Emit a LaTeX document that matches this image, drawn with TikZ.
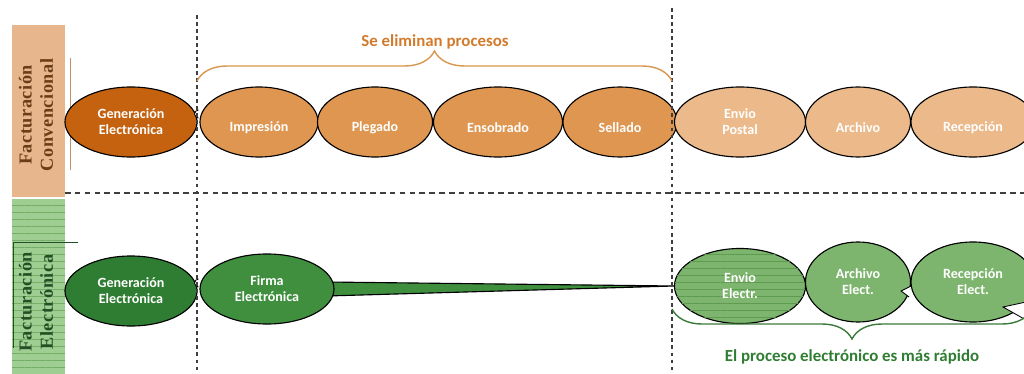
\documentclass[tikz,border=0pt]{standalone}
\usepackage{fontspec}
\setmainfont{Carlito}
\newfontfamily\barfont[LetterSpace=3]{Liberation Serif}
\usetikzlibrary{shapes.geometric,decorations.pathreplacing,patterns.meta,calc,backgrounds}

\definecolor{barTan}{HTML}{E8B68C}
\definecolor{barGreen}{HTML}{9FCE92}
\definecolor{barStripe}{HTML}{74AE66}
\definecolor{txtBrown}{HTML}{6A3D18}
\definecolor{txtGreen}{HTML}{244F24}
\definecolor{genOrange}{HTML}{C5620F}
\definecolor{midOrange}{HTML}{DE9650}
\definecolor{lightOrange}{HTML}{EBB98A}
\definecolor{braceOrange}{HTML}{D9964F}
\definecolor{titleOrange}{HTML}{D27B2C}
\definecolor{genGreen}{HTML}{2F7D32}
\definecolor{midGreen}{HTML}{3F8F3F}
\definecolor{lightGreen}{HTML}{7DB56E}
\definecolor{stripeGreen}{HTML}{5E9A50}
\definecolor{braceGreen}{HTML}{3B7A3B}
\definecolor{dashGray}{HTML}{3F3F3F}

\newcommand{\dropline}[1]{\raisebox{-4pt}[\height][\depth]{#1}}

\tikzset{
  proc/.style={ellipse,draw=black,line width=.8pt,inner sep=0pt,minimum height=1.75cm,
    text=white,align=center,font=\bfseries\fontsize{10}{11.5}\selectfont},
  barlabel/.style={rotate=90,align=center,font=\barfont\bfseries\fontsize{13}{15}\selectfont},
  bracetitle/.style={font=\bfseries\fontsize{12}{14}\selectfont},
  striped/.style={postaction={pattern={Lines[angle=0,distance=5pt,line width=.4pt]},pattern color=#1}}
}

\begin{document}
\begin{tikzpicture}[x=0.025cm,y=-0.025cm,>=latex]
    \useasboundingbox (0,0) rectangle (1024,374);
    % side bars
    \fill[barTan] (12,25) rectangle (65,197);
    \fill[barGreen,striped=barStripe] (12,199) rectangle (65,374);
    \node[barlabel,text=txtBrown] (lblconv) at (36,115) {Facturación\\Convencional};
    \node[barlabel,text=txtGreen] (lblelec) at (36,302) {Facturación\\Electrónica};
    \draw[barTan!80!black,line width=.6pt] (70,58)--(70,170);
    \draw[txtGreen,line width=.6pt] (78,242)--(13,242)--(13,348);

    % conventional row
    \node[proc,fill=genOrange,minimum width=3.3cm] (genconv) at (131,122) {Generación\\Electrónica};
    \node[proc,fill=midOrange,minimum width=2.95cm] (impr) at (259,122) {\dropline{Impresión}};
    \node[proc,fill=midOrange,minimum width=2.875cm] (pleg) at (375,122) {\dropline{Plegado}};
    \node[proc,fill=midOrange,minimum width=3.225cm] (ensob) at (498,122) {\dropline{Ensobrado}};
    \node[proc,fill=midOrange,minimum width=2.85cm] (sell) at (620,122) {\dropline{Sellado}};
    \node[proc,fill=lightOrange,minimum width=3.275cm] (envpost) at (740,122) {Envio\\Postal};
    \node[proc,fill=lightOrange,minimum width=2.625cm] (archconv) at (858,122) {\dropline{Archivo}};
    \node[proc,fill=lightOrange,minimum width=3.1cm] (recconv) at (973,122) {\dropline{Recepción}};

    % electronic row
    \node[proc,fill=genGreen,minimum width=3.3cm] (genelec) at (131,291) {Generación\\Electrónica};
    \node[proc,fill=midGreen,minimum width=3.35cm] (firma) at (267,289) {Firma\\Electrónica};
    \node[proc,fill=lightGreen,striped=stripeGreen,minimum width=3.275cm,minimum height=1.875cm] (envelec) at (740,286) {Envio\\Electr.};
    \node[proc,fill=lightGreen,minimum width=2.625cm,minimum height=2cm] (archelec) at (858,282) {Archivo\\Elect.};
    \node[proc,fill=lightGreen,minimum width=3.1cm,minimum height=2cm] (recelec) at (973,282) {Recepción\\Elect.};
    \begin{scope}[on background layer]
        \filldraw[fill=midGreen,draw=black,line width=.8pt] ($(firma.east)+(-8,-7)$)--(envelec.west)--($(firma.east)+(-8,7)$)--cycle;
    \end{scope}

    % notches
    \foreach \n in {genconv,genelec}
    {
        \filldraw[fill=white,draw=black,line width=.6pt] ($(\n.east)+(1,-4)$) arc (90:270:4);
    }
    \filldraw[fill=white,draw=black,line width=.6pt] ($(archelec.east)+(0,4)$)--($(archelec.east)+(-10,9)$)--($(archelec.east)+(-2,15)$);
    \filldraw[fill=white,draw=black,line width=.6pt] (1026,302)--(1003,307)--(1026,320);

    % separators
    \draw[dashGray,line width=.9pt,dash pattern=on 4pt off 3pt] (65,193)--(1024,193);
    \foreach \x/\y in {197/15,672/8}
    {
        \draw[dashGray,line width=.9pt,dash pattern=on 2.5pt off 2.5pt] (\x,\y)--(\x,374);
    }

    % braces
    \draw[braceOrange,line width=1pt,decorate,decoration={brace,amplitude=0.75cm}] (197,81)--(672,81);
    \node[bracetitle,text=titleOrange] (tit) at (435,42) {Se eliminan procesos};
    \draw[braceGreen,line width=1pt,decorate,decoration={brace,amplitude=0.75cm}] (1032,309)--(672,309);
    \node[bracetitle,text=genGreen] (tit2) at (852,357) {El proceso electrónico es más rápido};
\end{tikzpicture}
\end{document}
